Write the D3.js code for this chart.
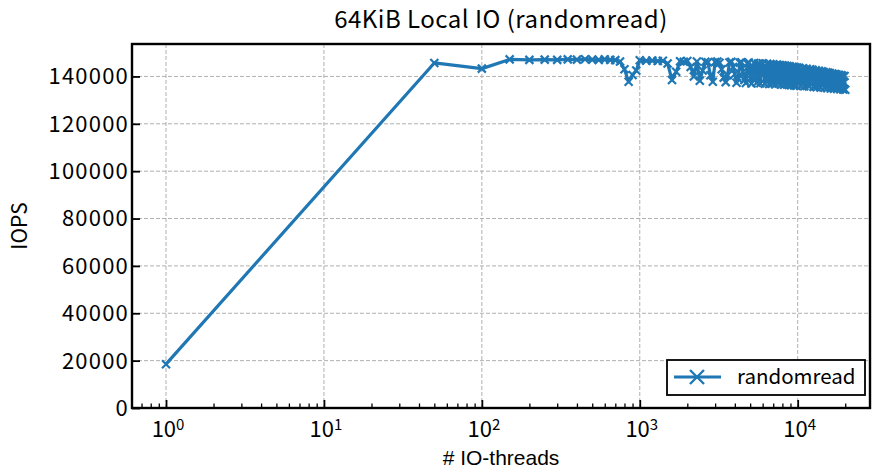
<!DOCTYPE html>
<html>
<head>
<meta charset="utf-8">
<script src="https://cdn.jsdelivr.net/npm/d3@7"></script>
<style>
  body { margin: 0; background: #fff; }
  text { font-family: "Noto Sans CJK JP", "Noto Sans", sans-serif; fill: #000; }
</style>
</head>
<body>
<script>
const threads = [1, 50, 100, 150, 200, 250, 300, 350, 400, 450, 500, 550, 600, 650, 700, 750, 800, 850, 900, 950, 1000,
    1100, 1200, 1300, 1400, 1500, 1600, 1700, 1800, 1900, 2000, 2100, 2200, 2300, 2400, 2500, 2600, 2700, 2800, 2900,
    3000, 3100, 3200, 3300, 3400, 3500, 3600, 3700, 3800, 3900, 4000, 4100, 4200, 4300, 4400, 4500, 4600, 4700, 4800, 4900,
    5000, 5100, 5200, 5300, 5400, 5500, 5600, 5700, 5800, 5900, 6000, 6100, 6200, 6300, 6400, 6500, 6600, 6700, 6800, 6900,
    7000, 7100, 7200, 7300, 7400, 7500, 7600, 7700, 7800, 7900, 8000, 8100, 8200, 8300, 8400, 8500, 8600, 8700, 8800, 8900,
    9000, 9100, 9200, 9300, 9400, 9500, 9600, 9700, 9800, 9900, 10000,
    10200, 10400, 10600, 10800, 11000, 11200, 11400, 11600, 11800, 12000, 12200, 12400, 12600, 12800, 13000,
    13200, 13400, 13600, 13800, 14000, 14200, 14400, 14600, 14800, 15000, 15200, 15400, 15600, 15800, 16000,
    16200, 16400, 16600, 16800, 17000, 17200, 17400, 17600, 17800, 18000, 18200, 18400, 18600, 18800, 19000,
    19200, 19400, 19600, 19800, 20000];
const iops = [18500, 145700, 143300, 147200, 147000, 147100, 147000, 147200, 147100, 147300, 147100, 147000, 147200, 147000, 146900, 146300, 143000, 137800, 140600, 142500, 146800,
    146600, 146700, 146500, 146600, 145500, 138500, 142000, 146400, 146200, 146500, 144000, 140000, 146300, 138200, 142500, 146200, 146000, 140500, 137800,
    146100, 146300, 145800, 143000, 139500, 137600, 140500, 145900, 146200, 144000, 141000, 137300, 139000, 145800, 146000, 142000, 138500, 137200, 145500, 145900,
    140500, 137000, 144200, 145700, 140000, 137300, 145300, 145500, 137100, 141800, 145600, 143000, 136900, 144000, 145400, 139000, 136800, 145200, 142500, 137000,
    145100, 144700, 136700, 140500, 145000, 137200, 143500, 144800, 136600, 141500, 144700, 138000, 136500, 144600, 142000, 136800, 144400, 139500, 136400, 144300,
    143500, 136300, 140000, 144100, 137200, 136200, 143900, 141000, 136100, 143800, 138500,
    143700, 136000, 141500, 143500, 135900, 139800, 143200, 136500, 135800, 143000, 138500, 142800, 135600, 141000, 142600,
    135500, 137800, 142400, 140000, 135300, 142200, 136800, 141900, 135200, 139500, 141800, 135000, 141600, 137500, 141400,
    134900, 139000, 141200, 135400, 134800, 141000, 137000, 140800, 134700, 139200, 140700, 135800, 134600, 140500, 138000,
    140300, 134500, 137500, 140200, 134400];
const yTicks = [0, 20000, 40000, 60000, 80000, 100000, 120000, 140000];
const xTicks = [1, 10, 100, 1000, 10000];
const xMinor = [0.7, 0.8, 0.9, 2, 3, 4, 5, 6, 7, 8, 9, 20, 30, 40, 50, 60, 70, 80, 90,
    200, 300, 400, 500, 600, 700, 800, 900, 2000, 3000, 4000, 5000, 6000, 7000, 8000, 9000, 20000];
const seriesName = "randomread";
const color = "#1f77b4";

const W = 873, H = 470;
const margin = { top: 44, right: 3, bottom: 62, left: 132 };
const width = W - margin.left - margin.right;
const height = H - margin.top - margin.bottom;

const data = threads.map((t, i) => ({ x: t, y: iops[i] }));

const x = d3.scaleLog().domain([0.609, 28700]).range([0, width]);
const y = d3.scaleLinear().domain([0, 153700]).range([height, 0]);

const svg = d3.select("body").append("svg")
    .attr("width", W)
    .attr("height", H);

const g = svg.append("g")
    .attr("transform", "translate(" + margin.left + "," + margin.top + ")");

// grid
g.append("g").selectAll("line")
    .data(yTicks.slice(1))
    .enter().append("line")
    .attr("x1", 0).attr("x2", width)
    .attr("y1", d => y(d)).attr("y2", d => y(d))
    .attr("stroke", "#b0b0b0").attr("stroke-width", 1)
    .attr("stroke-dasharray", "4,2");
g.append("g").selectAll("line")
    .data(xTicks)
    .enter().append("line")
    .attr("x1", d => x(d)).attr("x2", d => x(d))
    .attr("y1", 0).attr("y2", height)
    .attr("stroke", "#b0b0b0").attr("stroke-width", 1)
    .attr("stroke-dasharray", "4,2");

// series
const line = d3.line().x(d => x(d.x)).y(d => y(d.y));
g.append("path")
    .datum(data)
    .attr("fill", "none")
    .attr("stroke", color)
    .attr("stroke-width", 3.2)
    .attr("stroke-linejoin", "round")
    .attr("d", line);

const ms = 4;
const cross = s => "M" + (-s) + "," + (-s) + "L" + s + "," + s + "M" + (-s) + "," + s + "L" + s + "," + (-s);
g.append("g").selectAll("path")
    .data(data)
    .enter().append("path")
    .attr("transform", d => "translate(" + x(d.x) + "," + y(d.y) + ")")
    .attr("d", cross(ms))
    .attr("stroke", color)
    .attr("stroke-width", 2.2);

// ticks (inward)
const yAxis = d3.axisRight(y).tickValues(yTicks).tickSize(8).tickFormat("");
g.append("g").call(yAxis)
    .call(s => s.select(".domain").remove())
    .selectAll("line").attr("stroke", "#000").attr("stroke-width", 1.8);

g.selectAll(".ylab")
    .data(yTicks)
    .enter().append("text")
    .attr("class", "ylab")
    .attr("x", -3)
    .attr("y", d => y(d))
    .attr("dy", "0.36em")
    .attr("text-anchor", "end")
    .style("font-size", "22px")
    .style("letter-spacing", "1.2px")
    .text(d => d);

const xAxis = d3.axisTop(x).tickValues(xTicks).tickSize(8).tickFormat("");
g.append("g").attr("transform", "translate(0," + height + ")").call(xAxis)
    .call(s => s.select(".domain").remove())
    .selectAll("line").attr("stroke", "#000").attr("stroke-width", 1.8);
const xAxisMinor = d3.axisTop(x).tickValues(xMinor).tickSize(4.5).tickFormat("");
g.append("g").attr("transform", "translate(0," + height + ")").call(xAxisMinor)
    .call(s => s.select(".domain").remove())
    .selectAll("line").attr("stroke", "#000").attr("stroke-width", 1.3);

const xl = g.selectAll(".xlab")
    .data(xTicks)
    .enter().append("text")
    .attr("class", "xlab")
    .attr("x", d => x(d) + 2)
    .attr("y", height + 29)
    .attr("text-anchor", "middle")
    .style("font-size", "22px");
xl.append("tspan").text("10");
xl.append("tspan").attr("dy", "-0.5em").style("font-size", "15px").text((d, i) => i);

// frame
g.append("rect")
    .attr("width", width).attr("height", height)
    .attr("fill", "none").attr("stroke", "#000").attr("stroke-width", 2.4);

// labels
svg.append("text")
    .attr("x", margin.left + width / 2)
    .attr("y", 28)
    .attr("text-anchor", "middle")
    .style("font-size", "24px")
    .style("letter-spacing", "0.5px")
    .text("64KiB Local IO (randomread)");

svg.append("text")
    .attr("x", margin.left + width / 2)
    .attr("y", 464.5)
    .attr("text-anchor", "middle")
    .style("font-family", "'Liberation Sans', sans-serif")
    .style("font-size", "21px")
    .text("# IO-threads");

svg.append("text")
    .attr("transform", "translate(27," + (margin.top + height / 2) + ") rotate(-90)")
    .attr("text-anchor", "middle")
    .style("font-size", "21px")
    .text("IOPS");

// legend
const lg = svg.append("g").attr("transform", "translate(667,360)");
lg.append("rect")
    .attr("width", 198).attr("height", 35)
    .attr("fill", "#fff").attr("stroke", "#000").attr("stroke-width", 1.8);
lg.append("line")
    .attr("x1", 7).attr("x2", 54).attr("y1", 17).attr("y2", 17)
    .attr("stroke", color).attr("stroke-width", 3.2);
lg.append("path")
    .attr("transform", "translate(30,17)")
    .attr("d", cross(7))
    .attr("stroke", color).attr("stroke-width", 2.4);
lg.append("text")
    .attr("x", 70).attr("y", 17)
    .attr("dy", "0.36em")
    .style("font-size", "20.5px")
    .text(seriesName);
</script>
</body>
</html>
